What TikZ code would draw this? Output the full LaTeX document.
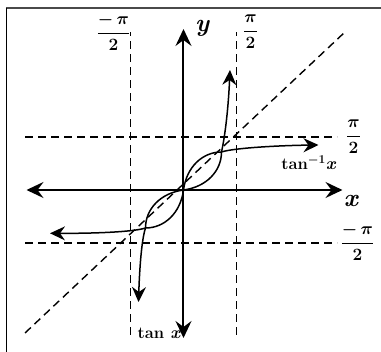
\documentclass[tikz,border=0pt]{standalone}
\usepackage{amsmath}
\usepackage{tikz}
\usetikzlibrary{positioning,
                arrows.meta}
\definecolor{framegray}{HTML}{4A4A4A}

\begin{document}
\begin{tikzpicture}[x=1pt,y=1pt]

\tikzset{
axisline/.style={
line width=2pt,
{Stealth[length=17pt,width=16pt,inset=6pt]}-{Stealth[length=17pt,width=16pt,inset=6pt]}
},
curveline/.style={
line width=1.5pt,
{Stealth[length=15pt,width=14pt,inset=5pt]}-{Stealth[length=15pt,width=14pt,inset=5pt]}
},
guideline/.style={
line width=1.4pt,
dash pattern=on 8pt off 5pt
},
graphlabel/.style={
inner sep=0pt,
font=\fontsize{16.5}{19}\selectfont\bfseries\boldmath
},
axislabel/.style={
inner sep=0pt,
font=\fontsize{24}{26}\selectfont\boldmath
},
fraclabel/.style={
inner sep=0pt,
font=\fontsize{16}{18}\selectfont\boldmath
}
}

\useasboundingbox (-183.5,-162) rectangle (197.5,190);

%--------------------------------------------------
% FRAME
%--------------------------------------------------

\coordinate (fcorner) at (-177,182);
\coordinate (fright) at (198,182);
\coordinate (fbottom) at (-177,-163);
\draw[framegray,line width=2pt] (fcorner) -- (fright);
\draw[line width=1.5pt] (fcorner) -- (fbottom);

%--------------------------------------------------
% GUIDE LINES
%--------------------------------------------------

\coordinate (vlb) at (-53,-145);
\coordinate (vlt) at (-53,158);
\coordinate (vrb) at (53,-145);
\coordinate (vrt) at (53,158);
\coordinate (htl) at (-158,53);
\coordinate (htr) at (154,53);
\coordinate (hbl) at (-158,-53);
\coordinate (hbr) at (154,-53);
\coordinate (dgl) at (-158.5,-143);
\coordinate (dgr) at (161.5,158);

\draw[guideline] (vlb) -- (vlt);
\draw[guideline] (vrb) -- (vrt);
\draw[guideline] (htl) -- (htr);
\draw[guideline] (hbl) -- (hbr);
\draw[guideline] (dgl) -- (dgr);

%--------------------------------------------------
% AXES
%--------------------------------------------------

\coordinate (origin) at (0,0);
\coordinate (xleft) at (-157,0);
\coordinate (xright) at (159,0);
\coordinate (ybottom) at (0,-148);
\coordinate (ytop) at (0,161);

\draw[axisline] (xleft) -- (xright);
\draw[axisline] (ybottom) -- (ytop);

%--------------------------------------------------
% CURVES
%--------------------------------------------------

\coordinate (meetlow) at (-38,-38);
\coordinate (meethigh) at (38,38);

% inverse tangent
\coordinate (atanleft) at (-133.5,-43.3);
\coordinate (atanright) at (135,45);
\draw[curveline] (atanleft)
  .. controls (-90,-43.5) and (-50,-42) .. (meetlow)
  .. controls (-19,-38) and (-3,-23) .. (origin)
  .. controls (3,23) and (19,38) .. (meethigh)
  .. controls (50,42) and (95,44.5) .. (atanright);

% tangent
\coordinate (tanbottom) at (-45,-112);
\coordinate (tantop) at (46.5,120);
\draw[curveline] (tanbottom)
  .. controls (-44,-80) and (-42,-50) .. (meetlow)
  .. controls (-38,-19) and (-23,-3) .. (origin)
  .. controls (23,3) and (38,19) .. (meethigh)
  .. controls (42,56) and (45,85) .. (tantop);

%--------------------------------------------------
% LABELS
%--------------------------------------------------

\node[axislabel] (ylabel) at (20,162) {$\mathit{y}$};
\node[axislabel] (xlabel) at (169,-11) {$\mathit{x}$};
\node[graphlabel] (atanlabel) at (126,27) {tan$^{-1}\mathit{x}$};
\node[graphlabel,anchor=west] (tanlabel) at (-46,-143) {tan $\mathit{x}$};

\node[fraclabel] (halfpitop) at (67,158) {$\dfrac{\pi}{2}$};
\node[fraclabel] (neghalfpitop) at (-70,158) {$\dfrac{-\,\pi}{2}$};
\node[fraclabel] (halfpiright) at (170,53) {$\dfrac{\pi}{2}$};
\node[fraclabel] (neghalfpiright) at (174,-52) {$\dfrac{-\,\pi}{2}$};

\end{tikzpicture}
\end{document}
